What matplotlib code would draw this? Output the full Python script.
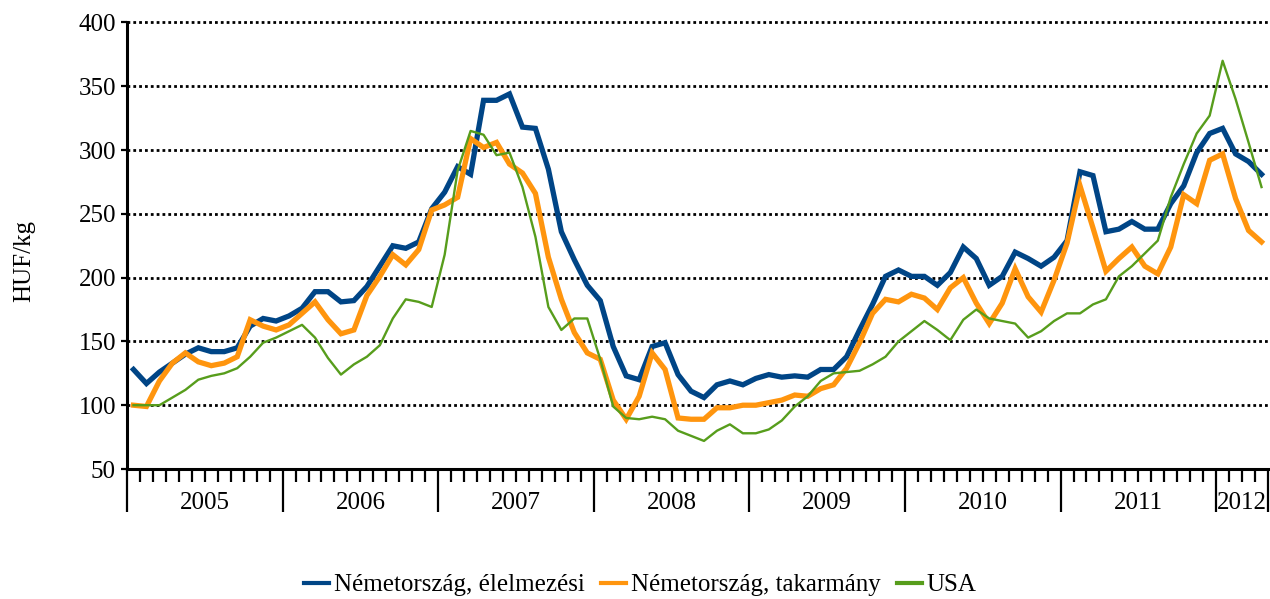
import numpy as np
import matplotlib
matplotlib.use("Agg")
import matplotlib.pyplot as plt
from matplotlib.lines import Line2D
import matplotlib.transforms as mtransforms

plt.rcParams['font.family'] = ['Liberation Serif', 'DejaVu Serif']
plt.rcParams['font.size'] = 18

# monthly prices, Jan 2005 - Apr 2012 (HUF/kg)
years = ["2005", "2006", "2007", "2008", "2009", "2010", "2011", "2012"]
months_per_year = [12, 12, 12, 12, 12, 12, 12, 4]

de_food = [128, 117, 126, 133, 140, 145, 142, 142, 145, 162, 168, 166,
           170, 176, 189, 189, 181, 182, 193, 209, 225, 223, 228, 254,
           267, 287, 281, 339, 339, 344, 318, 317, 285, 236, 214, 194,
           182, 146, 123, 120, 146, 149, 124, 111, 106, 116, 119, 116,
           121, 124, 122, 123, 122, 128, 128, 138, 159, 179, 201, 206,
           201, 201, 194, 204, 224, 215, 194, 201, 220, 215, 209, 216,
           229, 283, 280, 236, 238, 244, 238, 238, 258, 272, 298, 313,
           317, 297, 291, 281]

de_feed = [100, 99, 119, 133, 141, 134, 131, 133, 138, 167, 162, 159,
           163, 172, 181, 167, 156, 159, 186, 201, 218, 210, 222, 253,
           257, 263, 309, 302, 306, 289, 282, 266, 216, 183, 157, 141,
           136, 104, 89, 107, 141, 128, 90, 89, 89, 98, 98, 100,
           100, 102, 104, 108, 107, 113, 116, 129, 149, 172, 183, 181,
           187, 184, 175, 192, 200, 180, 164, 180, 207, 185, 173, 198,
           227, 272, 239, 205, 215, 224, 209, 203, 224, 265, 258, 292,
           297, 262, 237, 228]

usa = [100, 100, 100, 106, 112, 120, 123, 125, 129, 138, 149, 153,
       158, 163, 153, 137, 124, 132, 138, 147, 168, 183, 181, 177,
       218, 284, 315, 312, 296, 298, 271, 232, 177, 159, 168, 168,
       136, 99, 90, 89, 91, 89, 80, 76, 72, 80, 85, 78,
       78, 81, 88, 99, 107, 119, 125, 126, 127, 132, 138, 150,
       158, 166, 159, 151, 167, 175, 168, 166, 164, 153, 158, 166,
       172, 172, 179, 183, 201, 209, 219, 229, 263, 289, 313, 327,
       370, 340, 306, 271]

labels = ["Németország, élelmezési", "Németország, takarmány", "USA"]
colors = ["#004586", "#FF950E", "#579D1C"]

W, H = 1270, 599
fig = plt.figure(figsize=(W / 100, H / 100), dpi=100)
ax = fig.add_axes([127 / W, 1 - 469 / H, (1268 - 127) / W, (469 - 22.5) / H])

n = len(de_food)
x = np.arange(n)

ax.plot(x, de_food, color=colors[0], lw=3.8, solid_joinstyle='miter', zorder=3)
ax.plot(x, de_feed, color=colors[1], lw=3.8, solid_joinstyle='miter', zorder=4)
ax.plot(x, usa, color=colors[2], lw=1.7, zorder=5)

ax.set_xlim(-0.5, n - 0.5)
ax.set_ylim(50, 400)
ax.set_yticks(np.arange(50, 401, 50))

# dotted gridlines
for v in range(100, 401, 50):
    ax.axhline(v, color="black", lw=2.0, linestyle=(0, (1.0, 1.1)), zorder=1,
               clip_on=False)

for s in ["top", "right"]:
    ax.spines[s].set_visible(False)
for s in ["left", "bottom"]:
    ax.spines[s].set_linewidth(2.2)

ax.tick_params(axis="y", direction="out", length=4, width=1.6, pad=4)

# month ticks (minor) and year boundaries (major)
bounds = np.cumsum([0] + months_per_year) - 0.5
ax.set_xticks(bounds)
ax.set_xticklabels([])
ax.set_xticks(np.arange(-0.5, n, 1.0), minor=True)
ax.tick_params(axis="x", which="major", direction="out", length=31, width=1.6)
ax.tick_params(axis="x", which="minor", direction="out", length=9, width=1.6)

trans = mtransforms.blended_transform_factory(ax.transData, ax.transAxes)
for i, yr in enumerate(years):
    xc = (bounds[i] + bounds[i + 1]) / 2
    ax.text(xc, -34 / 446.5, yr, transform=trans, ha="center", va="center")

fig.text(24 / W, 1 - 261 / H, "HUF/kg", rotation=90, ha="center", va="center")

handles = [Line2D([], [], color=c, lw=3) for c in colors]
fig.legend(handles, labels, loc="center", bbox_to_anchor=(0.504, 1 - 585 / H),
           ncol=3, frameon=False, handlelength=1.0, handletextpad=0.2,
           columnspacing=0.65)

fig.savefig("out.png", dpi=100)
